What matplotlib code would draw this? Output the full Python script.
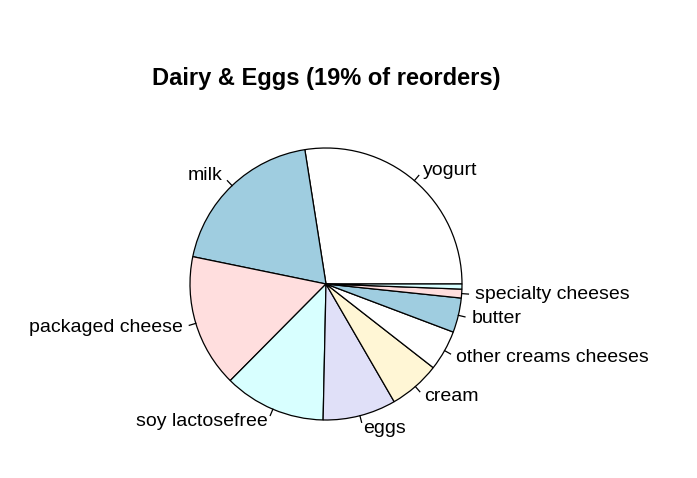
import numpy as np
import matplotlib
matplotlib.use("Agg")
import matplotlib.pyplot as plt

labels = ["yogurt", "milk", "packaged cheese", "soy lactosefree", "eggs", "cream",
          "other creams cheeses", "butter", "specialty cheeses", ""]
shares = [27.5, 19.3, 15.8, 12.1, 8.7, 6.1, 4.8, 4.1, 1.05, 0.6]
palette = ["#FFFFFF", "#9FCDE0", "#FFDEDE", "#D8FFFF", "#E0E0F8", "#FFF6D5"]
title = "Dairy & Eggs (19% of reorders)"

W, H = 697, 478
fig = plt.figure(figsize=(W / 100, H / 100), dpi=100)
ax = fig.add_axes([0, 0, 1, 1])
cx, cy, R = 326, H - 284, 136

colors = [palette[i % len(palette)] for i in range(len(shares))]
ax.pie(shares, center=(cx, cy), radius=R, startangle=0, counterclock=True,
       colors=colors, wedgeprops=dict(edgecolor="black", linewidth=0.9),
       normalize=True)

total = sum(shares)
cum = np.cumsum([0] + shares) / total * 360
for i, lab in enumerate(labels):
    if not lab:
        continue
    mid = np.deg2rad((cum[i] + cum[i + 1]) / 2)
    c, s = np.cos(mid), np.sin(mid)
    ax.plot([cx + R * c, cx + 1.05 * R * c], [cy + R * s, cy + 1.05 * R * s],
            color="black", linewidth=0.9)
    ax.text(cx + 1.1 * R * c, cy + 1.1 * R * s, lab,
            ha="left" if c > 0 else "right", va="center",
            fontsize=14, family="Liberation Sans")

ax.text(326, H - 78, title, ha="center", va="center", fontsize=17,
        fontweight="bold", family="Liberation Sans")

ax.set_xlim(0, W)
ax.set_ylim(0, H)
ax.set_aspect("equal")
ax.axis("off")
fig.savefig("out.png", dpi=100)
